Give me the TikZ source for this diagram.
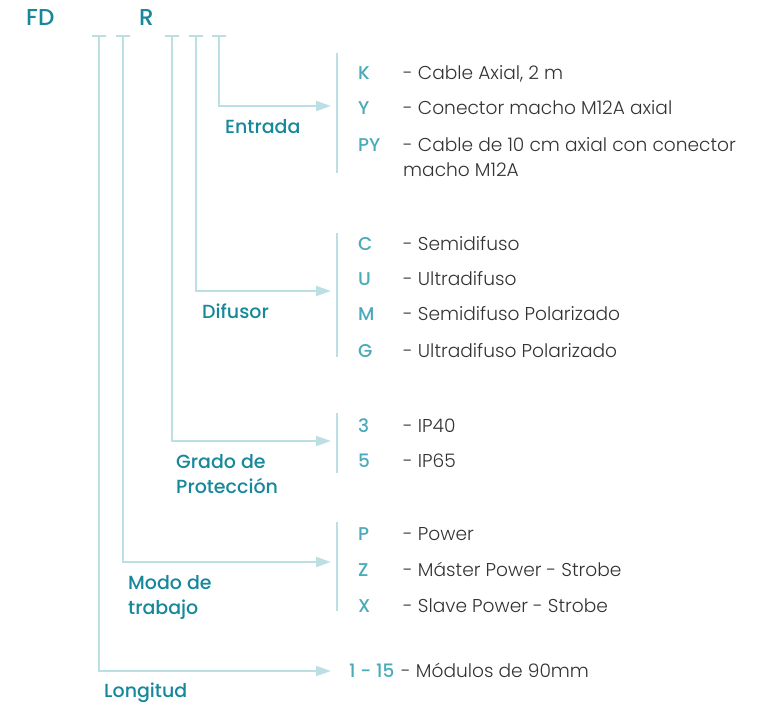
\documentclass[tikz,border=0pt]{standalone}
\usepackage{fontspec}
\setmainfont{Poppins}
\newfontfamily\lightfont{Poppins Light}
\newfontfamily\medfont{Poppins Medium}
\usetikzlibrary{arrows.meta}
\definecolor{tealdark}{HTML}{16889A}
\definecolor{teallight}{HTML}{4BAABA}
\definecolor{linec}{HTML}{BCDFE4}
\definecolor{txt}{HTML}{333333}
\tikzset{
  hdr/.style={anchor=base west, inner sep=0pt, text=tealdark, font=\medfont\fontsize{23}{26}\selectfont},
  lab/.style={anchor=base west, inner sep=0pt, text=tealdark, align=left, font=\medfont\fontsize{19}{25}\selectfont},
  code/.style={anchor=base west, inner sep=0pt, text=teallight, font=\medfont\fontsize{18.5}{22}\selectfont},
  desc/.style={anchor=base west, inner sep=0pt, text=txt, align=left, font=\lightfont\fontsize{18.6}{25}\selectfont},
  conn/.style={draw=linec, line width=1.8pt},
  arr/.style={conn, -{Triangle[length=15pt,width=10pt]}},
  bar/.style={conn}
}
\begin{document}
\begin{tikzpicture}[x=1pt,y=-1pt]
\useasboundingbox (0,0) rectangle (758,706);
% headers
\node[hdr] (fd) at (26,26) {FD};
\node[hdr] (r) at (139,26) {R};
% tick positions
\foreach \n/\x in {t1/99,t2/123,t3/172,t4/196,t5/219}{
  \coordinate (\n) at (\x,36);
  \draw[conn] (\x-7,36) -- (\x+7,36);
}
% corners and arrow tips
\coordinate (c5) at (219,106); \coordinate (a5) at (331,106);
\coordinate (c4) at (196,291); \coordinate (a4) at (331,291);
\coordinate (c3) at (172,441); \coordinate (a3) at (331,441);
\coordinate (c2) at (123,562); \coordinate (a2) at (331,562);
\coordinate (c1) at (99,671);  \coordinate (a1) at (331,671);
\draw[arr] (t5) -- (c5) -- (a5);
\draw[arr] (t4) -- (c4) -- (a4);
\draw[arr] (t3) -- (c3) -- (a3);
\draw[arr] (t2) -- (c2) -- (a2);
\draw[arr] (t1) -- (c1) -- (a1);
% group bars
\coordinate (b5t) at (337,53);  \coordinate (b5b) at (337,173);
\coordinate (b4t) at (337,233); \coordinate (b4b) at (337,357);
\coordinate (b3t) at (337,413); \coordinate (b3b) at (337,473);
\coordinate (b2t) at (337,522); \coordinate (b2b) at (337,611);
\draw[bar] (b5t) -- (b5b);
\draw[bar] (b4t) -- (b4b);
\draw[bar] (b3t) -- (b3b);
\draw[bar] (b2t) -- (b2b);
% labels (multi-line nodes: base = last line)
\node[lab] (entrada) at (225,134) {Entrada};
\node[lab] (difusor) at (202,318) {Difusor};
\node[lab] (grado) at (176,493) {Grado de\\Protección};
\node[lab] (modo) at (128,614) {Modo de\\trabajo};
\node[lab] (long) at (104,697) {Longitud};
% codes
\node[code] (k) at (358,80) {K};
\node[code] (y) at (358,115) {Y};
\node[code] (py) at (358,152) {PY};
\node[code] (c) at (358,250) {C};
\node[code] (u) at (358,285) {U};
\node[code] (m) at (358,320) {M};
\node[code] (g) at (358,357) {G};
\node[code] (n3) at (358,432) {3};
\node[code] (n5) at (358,467) {5};
\node[code] (p) at (358,540) {P};
\node[code] (z) at (358,576) {Z};
\node[code] (x) at (358,612) {X};
\node[code] (r115) at (349,677) {1 - 15};
% descriptions
\node[desc] (dk) at (403,80) {- Cable Axial, 2 m};
\node[desc] (dy) at (403,115) {- Conector macho M12A axial};
\node[desc] (dpy) at (403,177) {- Cable de 10 cm axial con conector\\macho M12A};
\node[desc] (dc) at (403,250) {- Semidifuso};
\node[desc] (du) at (403,285) {- Ultradifuso};
\node[desc] (dm) at (403,320) {- Semidifuso Polarizado};
\node[desc] (dg) at (403,357) {- Ultradifuso Polarizado};
\node[desc] (d3) at (403,432) {- IP40};
\node[desc] (d5) at (403,467) {- IP65};
\node[desc] (dp) at (403,540) {- Power};
\node[desc] (dz) at (403,576) {- Máster Power - Strobe};
\node[desc] (dx) at (403,612) {- Slave Power - Strobe};
\node[desc] (dl) at (401,677) {- Módulos de 90mm};
\end{tikzpicture}
\end{document}
